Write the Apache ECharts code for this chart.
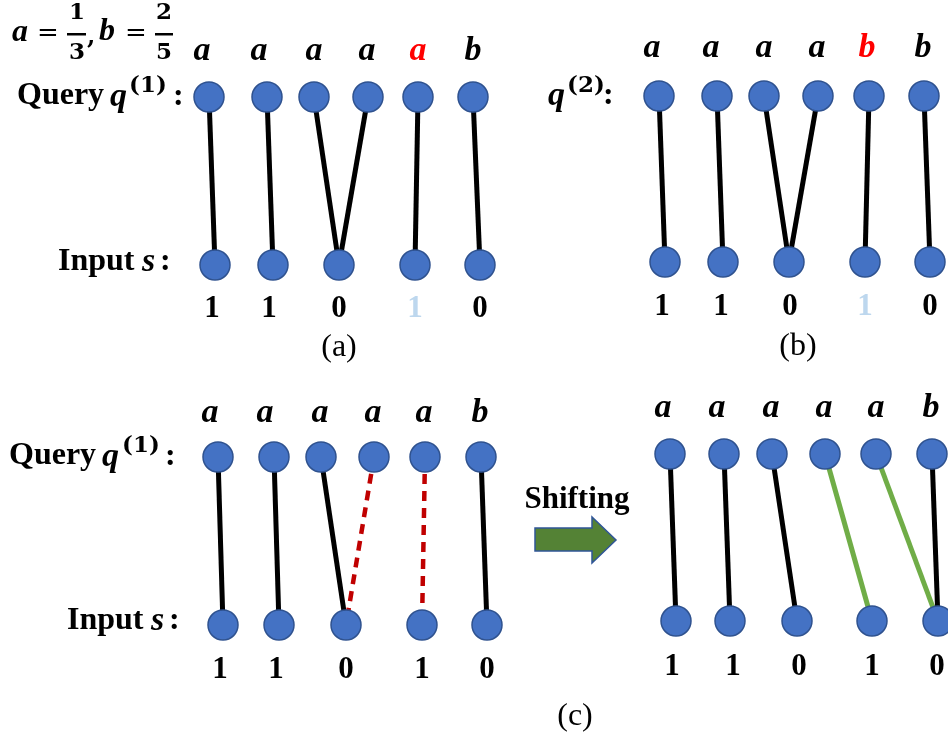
<!DOCTYPE html>
<html><head><meta charset="utf-8">
<script src="https://cdn.jsdelivr.net/npm/echarts@6/dist/echarts.min.js"></script>
<style>html,body{margin:0;padding:0;background:#fff}#c{width:948px;height:736px}</style>
</head><body><div id="c"></div>
<script>
// ---- data ----
const lettersA = ['a','a','a','a','a','b'];
const lettersB = ['a','a','a','a','b','b'];
const lettersC = ['a','a','a','a','a','b'];
const bitsS = ['1','1','0','1','0'];
const linksA = [[0,0,'keep'],[1,1,'keep'],[2,2,'keep'],[3,2,'keep'],[4,3,'keep'],[5,4,'keep']];
const linksB = [[0,0,'keep'],[1,1,'keep'],[2,2,'keep'],[3,2,'keep'],[4,3,'keep'],[5,4,'keep']];
const linksC1 = [[0,0,'keep'],[1,1,'keep'],[2,2,'keep'],[3,2,'drop'],[4,3,'drop'],[5,4,'keep']];
const linksC2 = [[0,0,'keep'],[1,1,'keep'],[2,2,'keep'],[3,3,'shift'],[4,4,'shift'],[5,4,'keep']];
const highlightLetter = [4, 4, -1, -1];
const fadedBit = [3, 3, -1, -1];

// ---- layout (positions in diagram units) ----
const layout = [
 {qx:[209,267,314,368,418,473], qy:97,  sx:[215,273,339,415,480], sy:265, lx:[202,259,314,367,418,473], ly:51,  bx:[212,269,339,415,480], by:309},
 {qx:[659,717,764,818,869,924], qy:96,  sx:[665,723,789,865,930], sy:262, lx:[652,711,764,817,867,923], ly:48,  bx:[662,721,790,865,930], by:307},
 {qx:[218,274,321,374,425,481], qy:457, sx:[223,279,346,422,487], sy:625, lx:[210,265,320,373,424,480], ly:413, bx:[220,276,346,422,487], by:670},
 {qx:[670,724,772,825,876,932], qy:454, sx:[676,730,797,872,938], sy:621, lx:[663,717,771,824,876,931], ly:408, bx:[672,733,799,872,937], by:667}
];
const panelLetters = [lettersA, lettersB, lettersC, lettersC];
const panelLinks = [linksA, linksB, linksC1, linksC2];

const linkStyle = {
  keep:  {color:'#000000', width:5, type:'solid'},
  drop:  {color:'#c00000', width:4.5, type:[10,7]},
  shift: {color:'#70ad47', width:5, type:'solid'}
};

const nodes = [], letterPts = [], bitPts = [], edges = [];
layout.forEach((L, p) => {
  L.qx.forEach(x => nodes.push([x, L.qy]));
  L.sx.forEach(x => nodes.push([x, L.sy]));
  panelLetters[p].forEach((t, i) => letterPts.push({name:t, value:[L.lx[i], L.ly],
     label:{color: i === highlightLetter[p] ? '#ff0000' : '#000000'}}));
  bitsS.forEach((t, i) => bitPts.push({name:t, value:[L.bx[i], L.by],
     label:{color: i === fadedBit[p] ? '#bdd7ee' : '#000000'}}));
  panelLinks[p].forEach(([qi, si, kind]) => edges.push({
     coords:[[L.qx[qi], L.qy], [L.sx[si], L.sy]], lineStyle: linkStyle[kind]}));
});

const serifB = 'bold 32px "Liberation Serif"';
const mathB = 'italic bold 34px "Liberation Serif"';
const supB = 'bold 23px "DejaVu Serif"';
const digitB = 'bold 23px "DejaVu Serif"';
const eqF = '26px "DejaVu Serif"';
const annotations = [
  // panel a
  {t:'Query', x:17, y:96, f:serifB}, {t:'q', x:110, y:97, f:mathB}, {t:'(1)', x:129, y:86, f:supB}, {t:':', x:173, y:97, f:serifB},
  {t:'Input', x:58, y:262, f:serifB}, {t:'s', x:142, y:262, f:mathB}, {t:':', x:160, y:262, f:serifB},
  {t:'(a)', x:339, y:348, f:'32px "Liberation Serif"', a:'center'},
  // panel b
  {t:'q', x:548, y:96, f:mathB}, {t:'(2)', x:567, y:86, f:supB}, {t:':', x:603, y:96, f:serifB},
  {t:'(b)', x:798, y:347, f:'32px "Liberation Serif"', a:'center'},
  // panel c
  {t:'Query', x:9, y:456, f:serifB}, {t:'q', x:102, y:457, f:mathB}, {t:'(1)', x:122, y:446, f:supB}, {t:':', x:165, y:457, f:serifB},
  {t:'Input', x:67, y:621, f:serifB}, {t:'s', x:151, y:621, f:mathB}, {t:':', x:169, y:621, f:serifB},
  {t:'(c)', x:575, y:717, f:'32px "Liberation Serif"', a:'center'},
  {t:'Shifting', x:577, y:500, f:'bold 31px "Liberation Serif"', a:'center'},
  // formula
  {t:'a', x:12, y:33, f:'italic bold 32px "Liberation Serif"'}, {t:'=', x:48, y:34, f:eqF, a:'center'},
  {t:'1', x:77, y:13, f:digitB, a:'center'}, {t:'3', x:77, y:53, f:digitB, a:'center'},
  {t:',', x:87, y:38, f:'bold 24px "DejaVu Serif"'},
  {t:'b', x:99, y:32, f:'italic bold 32px "Liberation Serif"'}, {t:'=', x:136, y:34, f:eqF, a:'center'},
  {t:'2', x:164, y:13, f:digitB, a:'center'}, {t:'5', x:164, y:53, f:digitB, a:'center'}
];

const graphic = annotations.map(o => ({type:'text', x:o.x, y:o.y, silent:true,
  style:{text:o.t, font:o.f, fill:'#000', align:o.a || 'left', verticalAlign:'middle'}}));
graphic.push({type:'rect', shape:{x:67, y:33, width:19, height:2.5}, style:{fill:'#000'}});
graphic.push({type:'rect', shape:{x:155, y:33, width:18, height:2.5}, style:{fill:'#000'}});
graphic.push({type:'polygon', shape:{points:[[535,528],[592,528],[592,517],[616,540],[592,563],[592,551],[535,551]]},
  style:{fill:'#548235', stroke:'#2f5597', lineWidth:1.5}});

const chart = echarts.init(document.getElementById('c'));
chart.setOption({
  animation:false,
  backgroundColor:'#ffffff',
  grid:{left:0, right:0, top:0, bottom:0},
  xAxis:{type:'value', min:0, max:948, show:false},
  yAxis:{type:'value', min:0, max:736, inverse:true, show:false},
  graphic: graphic,
  series:[
    {type:'lines', coordinateSystem:'cartesian2d', data:edges, z:1, silent:true,
     lineStyle:{width:5, opacity:1}},
    {type:'scatter', data:nodes, symbol:'circle', symbolSize:30, z:3, silent:true,
     itemStyle:{color:'#4472c4', borderColor:'#2f528f', borderWidth:1.5, opacity:1}},
    {type:'scatter', data:letterPts, symbolSize:0, z:4, silent:true,
     label:{show:true, position:'inside', formatter:'{b}', fontFamily:'Liberation Serif', fontStyle:'italic', fontWeight:'bold', fontSize:34,
            textBorderWidth:0, textShadowBlur:0, opacity:1}},
    {type:'scatter', data:bitPts, symbolSize:0, z:4, silent:true,
     label:{show:true, position:'inside', formatter:'{b}', fontFamily:'Liberation Serif', fontWeight:'bold', fontSize:31,
            textBorderWidth:0, textShadowBlur:0, opacity:1}}
  ]
});
</script></body></html>
